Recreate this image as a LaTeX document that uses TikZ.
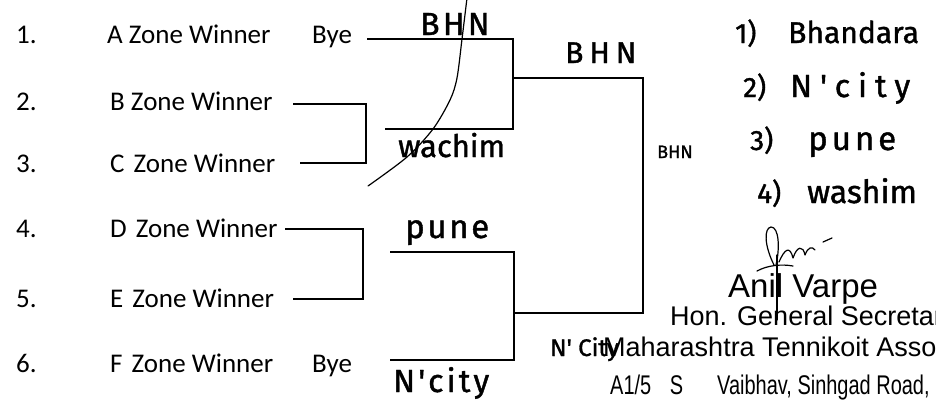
\documentclass[tikz,border=0pt]{standalone}
\usepackage{fontspec}
\setmainfont{Carlito}
\newfontfamily\hand[FakeBold=1.2]{Fira Sans}
\newfontfamily\arial{Liberation Sans}
\begin{document}
\begin{tikzpicture}[x=1pt,y=-1pt,
  entry/.style={anchor=base west, inner sep=0pt, font=\fontsize{27}{30}\selectfont},
  hw/.style={anchor=base west, inner sep=0pt},
  prt/.style={anchor=base west, inner sep=0pt},
  bracket/.style={line width=1.4pt, line join=miter},
  pen/.style={line width=1.2pt, line cap=round, line join=round}]
\useasboundingbox (0,0) rectangle (936,399);
\clip (0,0) rectangle (936,399);

% left column
\node[entry] (n1) at (16,43) {1.};
\node[entry] (n2) at (16,110) {2.};
\node[entry] (n3) at (16,172) {3.};
\node[entry] (n4) at (16,237) {4.};
\node[entry] (n5) at (16,307) {5.};
\node[entry] (n6) at (16,372) {6.};
\node[entry] (e1) at (107,43) {A Zone Winner};
\node[entry] (e2) at (110,110) {B Zone Winner};
\node[entry] (e3) at (110,172) {C\hspace{9pt}Zone Winner};
\node[entry] (e4) at (110,237) {D\hspace{9pt}Zone Winner};
\node[entry] (e5) at (110,307) {E\hspace{9pt}Zone Winner};
\node[entry] (e6) at (110,372) {F\hspace{9pt}Zone Winner};
\node[entry] (bye1) at (312,43) {Bye};
\node[entry] (bye6) at (312,372) {Bye};

% bracket coordinates
\coordinate (t1) at (367,39);
\coordinate (c1) at (513,39);
\coordinate (c2) at (513,129);
\coordinate (t2) at (385,129);
\coordinate (m1) at (513,78);
\coordinate (f1) at (643,78);
\coordinate (f2) at (643,313);
\coordinate (m2) at (514,313);
\coordinate (t3) at (390,252);
\coordinate (c3) at (514,252);
\coordinate (c4) at (514,360);
\coordinate (t4) at (390,360);
\coordinate (b0) at (293,104);
\coordinate (b1) at (366,104);
\coordinate (b2) at (366,163);
\coordinate (b3) at (300,163);
\coordinate (d0) at (285,229);
\coordinate (d1) at (363,229);
\coordinate (d2) at (363,299);
\coordinate (d3) at (293,299);

\draw[bracket] (b0) -- (b1) -- (b2) -- (b3);
\draw[bracket] (d0) -- (d1) -- (d2) -- (d3);
\draw[bracket] (t1) -- (c1) -- (c2) -- (t2);
\draw[bracket] (t3) -- (c3) -- (c4) -- (t4);
\draw[bracket] (m1) -- (f1) -- (f2) -- (m2);

% handwritten results
\node[hw, font=\hand\fontsize{32}{34}\selectfont\addfontfeature{LetterSpace=10}] (w1) at (420,35) {BHN};
\node[hw, font=\hand\fontsize{30}{32}\selectfont\addfontfeature{LetterSpace=20}] (w2) at (565,63) {BHN};
\node[hw, font=\hand\fontsize{31}{34}\selectfont] (w3) at (398,157) {wachim};
\node[hw, font=\hand\fontsize{33}{34}\selectfont\addfontfeature{LetterSpace=8}] (w4) at (405,238) {pune};
\node[hw, font=\hand\fontsize{32}{34}\selectfont\addfontfeature{LetterSpace=10}] (w5) at (393,392) {N'city};
\node[hw, font=\hand\fontsize{24}{26}\selectfont] (w6) at (550,356) {N' City};
\node[hw, font=\hand\fontsize{18}{20}\selectfont] (w7) at (657,158) {BHN};

% final ranking
\node[hw, font=\hand\fontsize{28}{30}\selectfont] (r1n) at (735,43) {1)};
\node[hw, font=\hand\fontsize{30}{32}\selectfont] (r1) at (788,43) {Bhandara};
\node[hw, font=\hand\fontsize{28}{30}\selectfont] (r2n) at (743,97) {2)};
\node[hw, font=\hand\fontsize{32}{34}\selectfont\addfontfeature{LetterSpace=25}] (r2) at (790,97) {N'city};
\node[hw, font=\hand\fontsize{28}{30}\selectfont] (r3n) at (750,150) {3)};
\node[hw, font=\hand\fontsize{33}{34}\selectfont\addfontfeature{LetterSpace=12}] (r3) at (808,150) {pune};
\node[hw, font=\hand\fontsize{28}{30}\selectfont] (r4n) at (757,203) {4)};
\node[hw, font=\hand\fontsize{32}{34}\selectfont] (r4) at (807,203) {washim};

% printed stamp
\node[prt, font=\arial\fontsize{33}{36}\selectfont] (sig) at (728,297) {Anil Varpe};
\node[prt, font=\arial\fontsize{27}{30}\selectfont] (hon) at (670,325) {Hon. General Secretary};
\node[prt, font=\arial\fontsize{27}{30}\selectfont] (mta) at (603,356) {Maharashtra Tennikoit Asso};
\node[prt, font=\arial\fontsize{27}{30}\selectfont] (adr) at (610,394) {\scalebox{0.74}[1]{A1/5\hspace{25pt}S\hspace{46pt}Vaibhav, Sinhgad Road,}};

% hand-drawn stroke
\draw[pen] plot[smooth] coordinates {(467,-2) (462,39) (457,78) (450,100) (433,129) (407,157) (368,186)};

% signature
\draw[pen] (774,265) .. controls (764,245) and (764,228) .. (771,227) .. controls (779,227) and (780,248) .. (776,265);
\draw[pen] (777,255) -- (777,320);
\draw[pen] (779,262) .. controls (785,248) and (790,246) .. (793,258) .. controls (797,246) and (803,245) .. (805,255) .. controls (808,247) and (812,246) .. (815,250);
\draw[pen] (757,271) .. controls (768,265) and (782,264) .. (793,266);
\draw[pen] (823,242) -- (832,238);
\end{tikzpicture}
\end{document}
